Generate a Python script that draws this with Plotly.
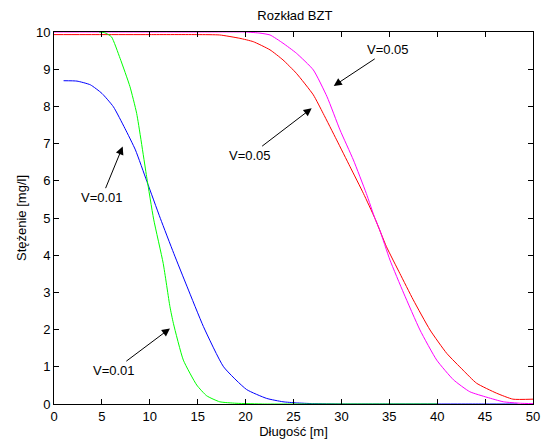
import plotly.graph_objects as go

# Blue curve (V=0.01, first)
blue_x = [1, 2.4, 3.8, 5.0, 6.2, 7.4, 8.5, 9.7, 11.1, 12.5, 13.9, 15.6, 17.7, 20.1, 22.2, 23.9, 25.3, 27, 30, 35, 40, 45, 48.4]
blue_y = [8.69, 8.68, 8.58, 8.35, 7.99, 7.41, 6.83, 5.98, 4.99, 4.05, 3.15, 2.08, 1.0, 0.39, 0.15, 0.06, 0.03, 0.01, 0.0, 0.0, 0.0, 0.0, 0.0]

# Green curve (V=0.01, second)
green_x = [4.7, 5.3, 6.0, 6.9, 7.93, 8.63, 9.67, 10.4, 11.4, 12.1, 12.46, 13.5, 14.9, 15.94, 17.3, 19, 22, 25, 30, 35, 40]
green_y = [10.0, 9.98, 9.87, 9.29, 8.53, 7.81, 6.11, 4.97, 3.78, 2.62, 2.17, 1.18, 0.51, 0.22, 0.06, 0.02, 0.0, 0.0, 0.0, 0.0, 0.0]

# Red curve (V=0.05, first)
red_x = [0, 5, 10, 15, 17.3, 19.4, 20.8, 22.55, 23.9, 25.3, 27.07, 28.1, 29.5, 30.9, 32.3, 33.5, 34.7, 36.1, 37.5, 39.25, 41.0, 42.7, 44.1, 46.2, 47.9, 50]
red_y = [9.93, 9.93, 9.93, 9.93, 9.92, 9.83, 9.74, 9.52, 9.25, 8.89, 8.31, 7.81, 7.1, 6.38, 5.66, 4.99, 4.23, 3.51, 2.80, 1.99, 1.36, 0.91, 0.56, 0.29, 0.13, 0.13]

# Magenta curve (V=0.05, second)
mag_x = [0, 5, 10, 15, 20, 21.5, 22.55, 23.9, 25.3, 27.07, 28.5, 29.85, 31.25, 32.6, 33.5, 34.0, 35.07, 36.5, 38.2, 39.95, 41.7, 43.4, 45.2, 46.9, 48.7, 50]
mag_y = [10.0, 10.0, 10.0, 10.0, 10.0, 9.97, 9.92, 9.70, 9.43, 8.98, 8.26, 7.37, 6.56, 5.66, 4.99, 4.68, 3.87, 2.98, 1.99, 1.18, 0.65, 0.33, 0.18, 0.06, 0.02, 0.01]

x_ticks = [0, 5, 10, 15, 20, 25, 30, 35, 40, 45, 50]
y_ticks = [0, 1, 2, 3, 4, 5, 6, 7, 8, 9, 10]

# Annotations: label, arrow tip (x, y), text position (x, y)
ann_labels = ["V=0.01", "V=0.01", "V=0.05", "V=0.05"]
ann_tip_x = [7.17, 12.1, 26.9, 29.2]
ann_tip_y = [6.92, 2.03, 7.95, 8.55]
ann_txt_x = [5.0, 6.3, 20.5, 34.9]
ann_txt_y = [5.56, 0.91, 6.69, 9.52]

FONT = "Liberation Sans, Arial, sans-serif"

fig = go.Figure()
line_shape = dict(shape="spline", smoothing=0.5)
fig.add_trace(go.Scatter(x=blue_x, y=blue_y, mode="lines", line=dict(color="#0000ff", width=1, **line_shape)))
fig.add_trace(go.Scatter(x=red_x, y=red_y, mode="lines", line=dict(color="#ff0000", width=1, **line_shape)))
fig.add_trace(go.Scatter(x=mag_x, y=mag_y, mode="lines", line=dict(color="#ff00ff", width=1, **line_shape)))
fig.add_trace(go.Scatter(x=green_x, y=green_y, mode="lines", line=dict(color="#00ff00", width=1, **line_shape)))

for lab, tx, ty, ax_, ay_ in zip(ann_labels, ann_tip_x, ann_tip_y, ann_txt_x, ann_txt_y):
    fig.add_annotation(x=tx, y=ty, ax=ax_, ay=ay_, xref="x", yref="y", axref="x", ayref="y",
                       text=lab, showarrow=True, arrowhead=2, arrowsize=1.6, arrowwidth=1,
                       arrowcolor="#000000", font=dict(family=FONT, size=13, color="black"))

axis_common = dict(showgrid=False, zeroline=False, showline=True, linecolor="black", linewidth=1,
                   mirror="allticks", ticks="inside", ticklen=5, tickcolor="black", automargin=False,
                   tickfont=dict(family=FONT, size=13, color="black"))

fig.update_layout(
    width=541, height=446,
    margin=dict(l=54, r=8, t=32, b=42),
    paper_bgcolor="white", plot_bgcolor="white",
    showlegend=False,
    title=dict(text="Rozkład BZT", x=0.545, xanchor="center", y=1 - 15 / 446, yanchor="middle",
               yref="container", automargin=False, font=dict(family=FONT, size=13, color="black")),
    xaxis=dict(range=[0, 50], tickvals=x_ticks, ticktext=[str(v) for v in x_ticks],
               title=dict(text="Długość [m]", standoff=2, font=dict(family=FONT, size=13, color="black")),
               **axis_common),
    yaxis=dict(range=[0, 10], tickvals=y_ticks, ticktext=[str(v) for v in y_ticks],
               title=dict(text="Stężenie [mg/l]", standoff=6, font=dict(family=FONT, size=13, color="black")),
               **axis_common),
)

fig.write_html("out.html", config={"displayModeBar": False},
               post_script="document.body.style.margin='0';document.body.style.overflow='hidden';")
